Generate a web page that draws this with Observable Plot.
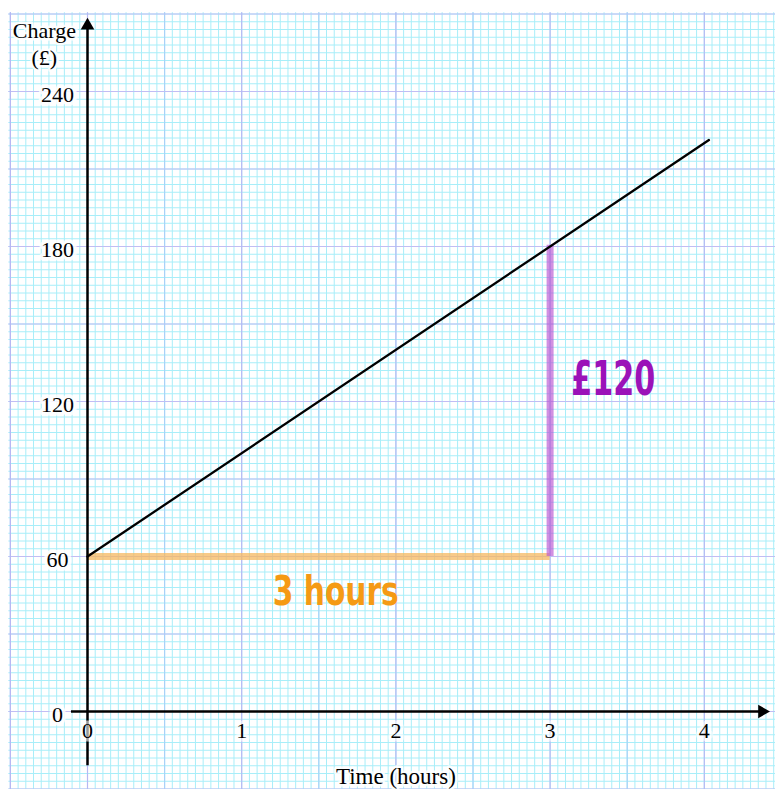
<!DOCTYPE html>
<html><head><meta charset="utf-8">
<script src="https://cdn.jsdelivr.net/npm/d3@7"></script>
<script src="https://cdn.jsdelivr.net/npm/@observablehq/plot@0.6"></script>
<style>body{margin:0;background:#fff}svg{display:block}</style>
</head><body><div id="chart"></div>
<script>
// Data
const xTicks = [0, 1, 2, 3, 4];
const yTicks = [0, 60, 120, 180, 240];
const hours = [0, 4.03];
const charge = [60, 221.2];
const horizHours = [0, 3];     // "3 hours" run
const horizCharge = 60;
const vertHours = 3;           // "£120" rise
const vertCharge = [60, 180.5];
const xLabel = "Time (hours)";
const yLabel1 = "Charge";
const yLabel2 = "(£)";
const riseLabel = "£120";
const runLabel = "3 hours";

const line = hours.map((h, i) => ({h, c: charge[i]}));

// grid positions
const minorX = d3.range(-0.5, 4.47, 0.05);
const halfX = d3.range(-0.5, 4.47, 0.5).filter(v => Math.abs(v - Math.round(v)) > 0.1);
const intX = d3.range(0, 5, 1).concat([-0.5]);
const minorY = d3.range(-30, 271, 3);
const majorY = d3.range(-30, 271, 30);

const serif = "Liberation Serif, Times New Roman, serif";
const hand = "DejaVu Sans, sans-serif";
const gx = [-0.51, 4.47], gy = [-30.5, 270.5];

const chart = Plot.plot({
  width: 775, height: 789,
  marginLeft: 0, marginRight: 0, marginTop: 0, marginBottom: 0,
  x: {domain: [0, 4], range: [87, 703.8], axis: null},
  y: {domain: [0, 240], range: [711, 91], axis: null},
  style: {background: "white"},
  marks: [
    Plot.ruleX(minorX, {y1: gy[0], y2: gy[1], stroke: "#a8eef9", strokeWidth: 1}),
    Plot.ruleY(minorY, {x1: gx[0], x2: gx[1], stroke: "#a8eef9", strokeWidth: 1}),
    Plot.ruleX(halfX, {y1: gy[0], y2: gy[1], stroke: "#a8d2f8", strokeWidth: 1.2}),
    Plot.ruleY(majorY, {x1: gx[0], x2: gx[1], stroke: "#c0bef4", strokeWidth: 1.2}),
    Plot.ruleX(intX, {y1: gy[0], y2: gy[1], stroke: "#b6b8f3", strokeWidth: 1.2}),
    // highlights
    Plot.ruleY([horizCharge], {x1: horizHours[0], x2: horizHours[1], stroke: "#f5b860", strokeOpacity: 0.75, strokeWidth: 7}),
    Plot.ruleX([vertHours], {y1: vertCharge[0], y2: vertCharge[1], stroke: "#b955d3", strokeOpacity: 0.65, strokeWidth: 7}),
    // axes
    Plot.ruleY([0], {x1: -0.104, x2: 4.37, stroke: "black", strokeWidth: 2.5}),
    Plot.ruleX([0], {y1: -21, y2: 265, stroke: "black", strokeWidth: 2.5}),
    Plot.dot([{x: 4.375, y: 0}], {x: "x", y: "y", symbol: "triangle2", r: 6.5, fill: "black", rotate: 90}),
    Plot.dot([{x: 0, y: 265.5}], {x: "x", y: "y", symbol: "triangle2", r: 6.5, fill: "black"}),
    // main line
    Plot.line(line, {x: "h", y: "c", stroke: "black", strokeWidth: 2.3}),
    // tick labels
    Plot.text(yTicks, {x: -0.195, y: d => d, text: d => String(d), fontFamily: serif, fontSize: 22, fill: "black", stroke: "white", strokeWidth: 7, strokeOpacity: 0.85, dy: 3}),
    Plot.text(xTicks, {x: d => d, y: -7.6, text: d => String(d), fontFamily: serif, fontSize: 22, fill: "black", stroke: "white", strokeWidth: 7, strokeOpacity: 0.6}),
    Plot.text([yLabel1], {x: -0.28, y: 263.6, text: d => d, fontFamily: serif, fontSize: 22, fill: "black", stroke: "white", strokeWidth: 5, strokeOpacity: 0.85}),
    Plot.text([yLabel2], {x: -0.28, y: 252.8, text: d => d, fontFamily: serif, fontSize: 22, fill: "black", stroke: "white", strokeWidth: 5, strokeOpacity: 0.85}),
    Plot.text([xLabel], {x: 2, y: -25.3, text: d => d, fontFamily: serif, fontSize: 23, fill: "black", stroke: "white", strokeWidth: 5, strokeOpacity: 0.85}),
    // handwritten annotations
    Plot.text([riseLabel], {x: 3.41, y: 128.5, text: d => d, fontFamily: hand, fontWeight: "bold", fontSize: 48, fill: "#9b12b8", className: "rise"}),
    Plot.text([runLabel], {x: 1.61, y: 46, text: d => d, fontFamily: hand, fontWeight: "bold", fontSize: 40, fill: "#f59a14", className: "run"})
  ]
});
d3.select(chart).selectAll(".rise text").attr("textLength", 84).attr("lengthAdjust", "spacingAndGlyphs");
d3.select(chart).selectAll(".run text").attr("textLength", 126).attr("lengthAdjust", "spacingAndGlyphs");
document.getElementById("chart").append(chart);
</script>
</body></html>
